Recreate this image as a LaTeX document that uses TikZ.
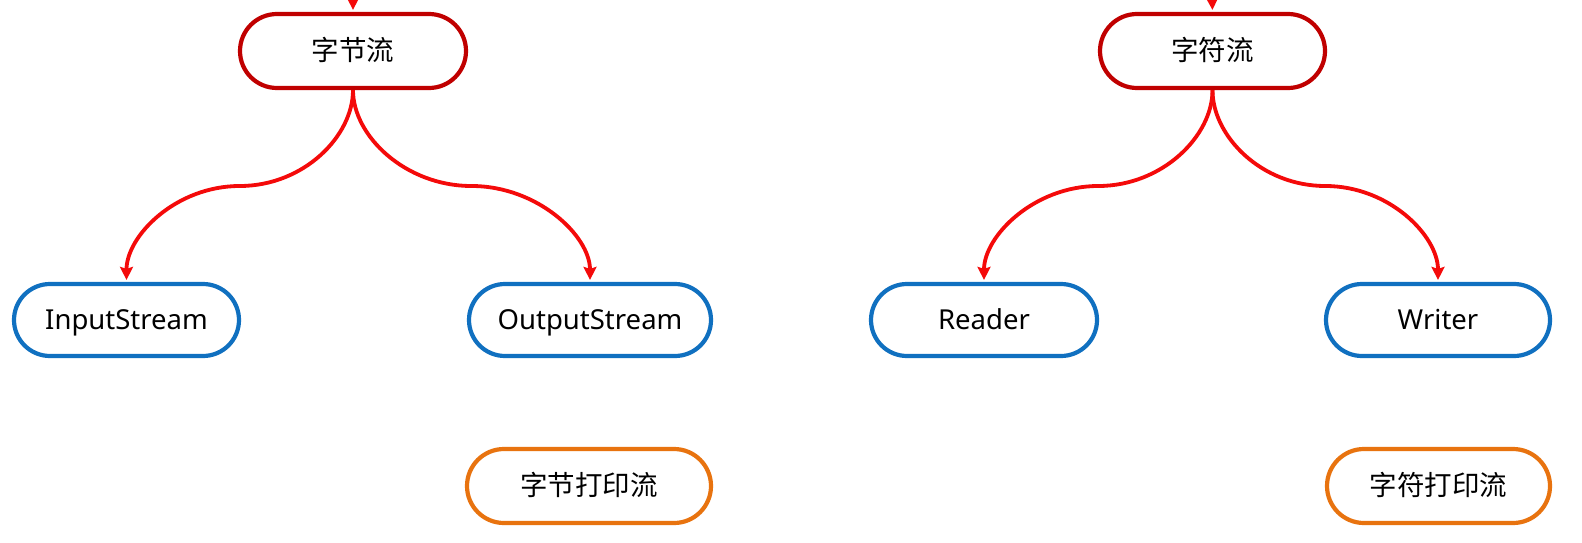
\documentclass[tikz,border=0pt]{standalone}
\usepackage{fontspec}
\setmainfont{Noto Sans}
\newfontfamily\cjk{Noto Sans CJK SC}
\usetikzlibrary{shapes.misc,arrows.meta,calc}
\definecolor{topred}{HTML}{C00000}
\definecolor{boxblue}{HTML}{1070C0}
\definecolor{boxorange}{HTML}{E8730F}
\definecolor{arrred}{HTML}{F40A0A}
\tikzset{
  pill/.style={rounded rectangle, draw, line width=4.2pt, fill=white, inner sep=0pt,
    minimum height=74pt, text height=25pt, text depth=6pt,
    font=\fontsize{27.5pt}{32pt}\selectfont},
  toppill/.style={pill, draw=topred},
  bluepill/.style={pill, draw=boxblue},
  orangepill/.style={pill, draw=boxorange},
  conn/.style={draw=arrred, line width=3.8pt, shorten >=2pt,
    -{Stealth[length=13pt,width=13pt,inset=2pt]}},
}
\begin{document}
\begin{tikzpicture}[x=1pt,y=-1pt]
\fill[white] (0,0) rectangle (1582,543);
\useasboundingbox (0,0) rectangle (1582,543);

\node[toppill, minimum width=226pt] (zj) at (353,51) {\cjk 字节流};
\node[toppill, minimum width=225pt] (zf) at (1212.5,51) {\cjk 字符流};

\node[bluepill, minimum width=225pt, minimum height=72pt] (in) at (126.5,320) {InputStream};
\node[bluepill, minimum width=242pt, minimum height=72pt] (out) at (590,320) {OutputStream};
\node[bluepill, minimum width=226pt, minimum height=72pt] (rd) at (984,320) {Reader};
\node[bluepill, minimum width=224pt, minimum height=72pt] (wr) at (1438,320) {Writer};

\node[orangepill, minimum width=244pt] (zjp) at (589,486) {\cjk 字节打印流};
\node[orangepill, minimum width=223pt] (zfp) at (1438.5,486) {\cjk 字符打印流};

\coordinate (t1) at (353,-40);
\coordinate (t2) at (1211,-40);
\draw[conn] (t1) -- (zj.north);
\draw[conn] (t2) -- (zf.north);

\draw[conn] (zj.south) .. controls +(0,46) and +(64,0) .. ($(zj.south)!.5!(in.north)$)
  .. controls +(-64,0) and +(0,-46) .. (in.north);
\draw[conn] (zj.south) .. controls +(0,46) and +(-66,0) .. ($(zj.south)!.5!(out.north)$)
  .. controls +(66,0) and +(0,-46) .. (out.north);
\draw[conn] (zf.south) .. controls +(0,46) and +(64,0) .. ($(zf.south)!.5!(rd.north)$)
  .. controls +(-64,0) and +(0,-46) .. (rd.north);
\draw[conn] (zf.south) .. controls +(0,46) and +(-64,0) .. ($(zf.south)!.5!(wr.north)$)
  .. controls +(64,0) and +(0,-46) .. (wr.north);
\end{tikzpicture}
\end{document}
